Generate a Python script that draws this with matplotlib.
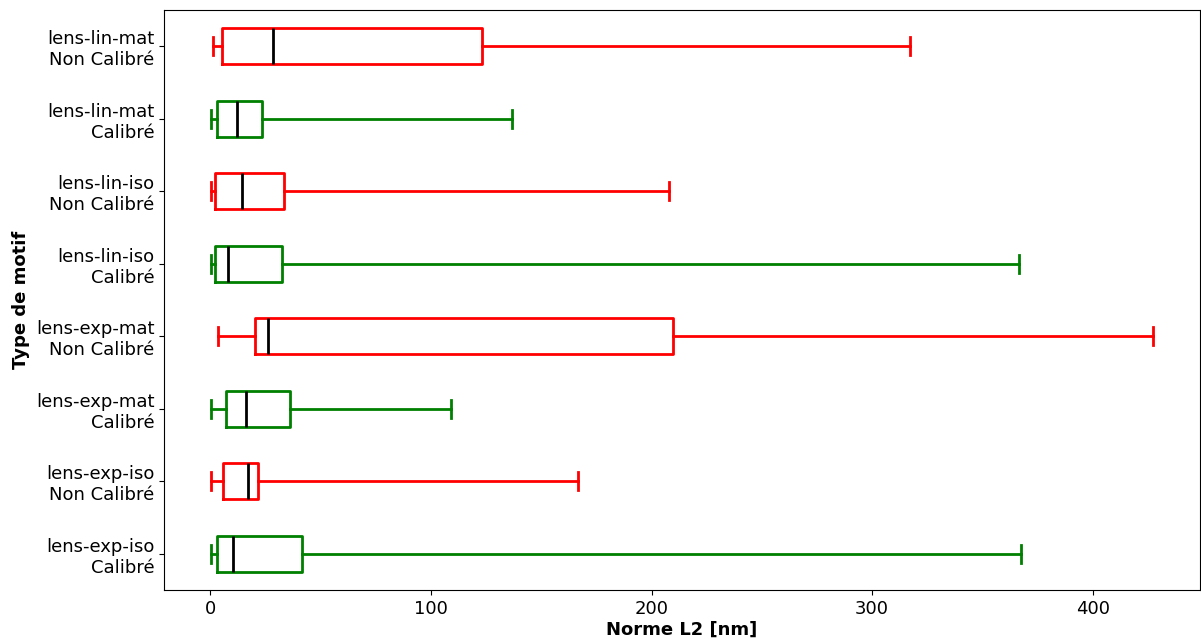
import matplotlib
matplotlib.use("Agg")
import matplotlib.pyplot as plt

# ordre de bas en haut
labels = ["lens-exp-iso\nCalibré", "lens-exp-iso\nNon Calibré",
          "lens-exp-mat\nCalibré", "lens-exp-mat\nNon Calibré",
          "lens-lin-iso\nCalibré", "lens-lin-iso\nNon Calibré",
          "lens-lin-mat\nCalibré", "lens-lin-mat\nNon Calibré"]
whislo = [0.3, 0.3, 0.3, 3.3, 0.3, 0.3, 0.3, 1.0]
q1 = [3.0, 5.9, 7.1, 20.2, 1.9, 2.1, 3.0, 5.1]
med = [10.1, 17.2, 16.1, 25.9, 8.1, 14.2, 12.1, 28.2]
q3 = [41.3, 21.4, 36.2, 209.6, 32.3, 33.2, 23.2, 122.9]
whishi = [367.3, 166.7, 109.0, 427.3, 366.4, 207.7, 136.8, 317.3]
colors = ["green", "red"] * 4

stats = []
for i in range(len(labels)):
    stats.append({"whislo": whislo[i], "q1": q1[i], "med": med[i],
                  "q3": q3[i], "whishi": whishi[i], "fliers": []})

fig = plt.figure(figsize=(12.01, 6.42), dpi=100)
ax = fig.add_axes([164 / 1201, 52 / 642, 1036 / 1201, 580 / 642])

bp = ax.bxp(stats, vert=False, widths=0.5, showfliers=False, patch_artist=False)
for i, c in enumerate(colors):
    bp["boxes"][i].set(color=c, linewidth=2)
    bp["whiskers"][2 * i].set(color=c, linewidth=2)
    bp["whiskers"][2 * i + 1].set(color=c, linewidth=2)
    bp["caps"][2 * i].set(color=c, linewidth=2)
    bp["caps"][2 * i + 1].set(color=c, linewidth=2)
    bp["medians"][i].set(color="black", linewidth=2)

ax.set_yticks(range(1, len(labels) + 1))
ax.set_yticklabels(labels, fontsize=13)
ax.tick_params(axis="x", labelsize=13)
ax.set_xticks([0, 100, 200, 300, 400])
ax.set_xlabel("Norme L2 [nm]", fontsize=13, fontweight="bold", labelpad=2)
ax.set_ylabel("Type de motif", fontsize=13, fontweight="bold")

fig.savefig("out.png", dpi=100)
